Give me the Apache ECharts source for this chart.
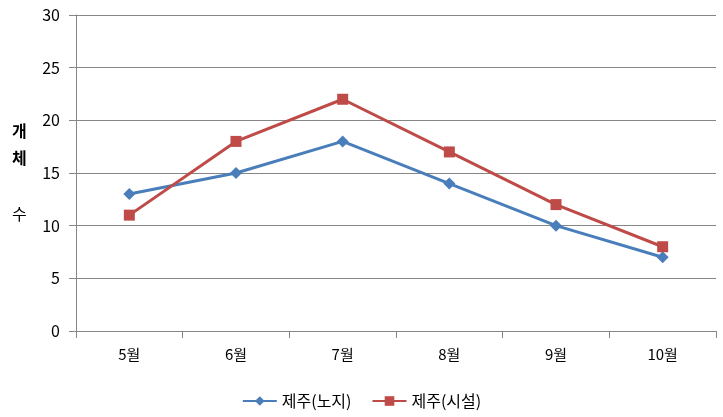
<!DOCTYPE html>
<html><head><meta charset="utf-8">
<script src="https://cdn.jsdelivr.net/npm/echarts@6/dist/echarts.min.js"></script>
<style>html,body{margin:0;padding:0;background:#fff}#c{width:723px;height:417px}</style>
</head><body><div id="c"></div>
<script>
const categories = ['5월','6월','7월','8월','9월','10월'];
const seriesNames = ['제주(노지)','제주(시설)'];
const openField = [13,15,18,14,10,7];
const facility = [11,18,22,17,12,8];
const yTitleChars = ['개','체','수'];
const font = '"Noto Sans CJK KR", "Noto Sans", sans-serif';
const chart = echarts.init(document.getElementById('c'));
chart.setOption({
  animation: false,
  grid: {left: 76, right: 7, top: 15, bottom: 86, containLabel: false},
  legend: {
    bottom: 3, left: 'center', itemGap: 20, itemWidth: 34, itemHeight: 12,
    textStyle: {fontFamily: font, fontSize: 16, color: '#000'},
    data: seriesNames
  },
  graphic: [
    {type:'text', left: 12, top: 123, style:{text: yTitleChars[0], font: 'bold 16px ' + font, fill:'#000'}},
    {type:'text', left: 12, top: 150, style:{text: yTitleChars[1], font: 'bold 16px ' + font, fill:'#000'}},
    {type:'text', left: 12, top: 206, style:{text: yTitleChars[2], font: '16px ' + font, fill:'#000'}}
  ],
  xAxis: {
    type: 'category', data: categories, boundaryGap: true,
    axisLine: {lineStyle: {color: '#868686', width: 1}},
    axisTick: {show: true, length: 7, lineStyle: {color: '#868686'}},
    axisLabel: {fontFamily: font, fontSize: 15, color: '#000', margin: 16}
  },
  yAxis: {
    type: 'value', min: 0, max: 30, interval: 5,
    axisLine: {show: true, lineStyle: {color: '#868686'}},
    axisTick: {show: true, length: 7, lineStyle: {color: '#868686'}},
    axisLabel: {fontFamily: font, fontSize: 16, color: '#000', margin: 16},
    splitLine: {lineStyle: {color: '#868686', width: 1}}
  },
  series: [
    {name: seriesNames[0], type: 'line', data: openField, symbol: 'diamond', symbolSize: 12,
     itemStyle: {color: '#4A7EBB'}, lineStyle: {color: '#4A7EBB', width: 3}},
    {name: seriesNames[1], type: 'line', data: facility, symbol: 'rect', symbolSize: 11,
     itemStyle: {color: '#BE4B48'}, lineStyle: {color: '#BE4B48', width: 3}}
  ]
});
</script></body></html>
